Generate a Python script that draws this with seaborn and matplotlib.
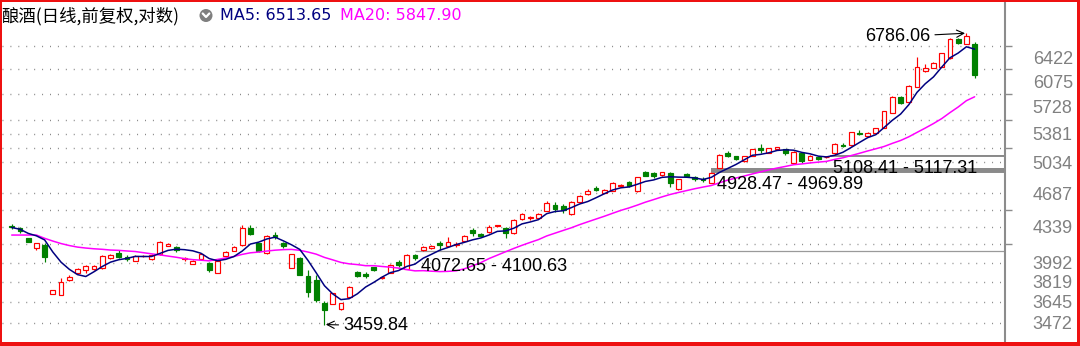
import numpy as np
import pandas as pd
import matplotlib
matplotlib.use("Agg")
import matplotlib.pyplot as plt
import seaborn as sns
from matplotlib.patches import Rectangle, Circle
from matplotlib.lines import Line2D
from matplotlib.ticker import NullFormatter

# ---------------- data ----------------
opens = [4345, 4325, 4223, 4130, 4158, 3713, 3707, 3835, 3895, 3925,
         3930, 3941, 4033, 4082, 4048, 4008, 4050, 4026, 4071, 4149,
         4139, 4022, 3980, 4023, 3992, 3901, 4057, 4104, 4158, 4322,
         4174, 4079, 4255, 4174, 3946, 4038, 3871, 3835, 3634, 3629,
         3584, 3690, 3903, 3889, 3948, 3853, 3901, 3994, 3932, 4064,
         4106, 4125, 4177, 4146, 4158, 4196, 4305, 4265, 4285, 4340,
         4322, 4275, 4416, 4421, 4427, 4502, 4561, 4551, 4468, 4593,
         4674, 4745, 4690, 4712, 4766, 4814, 4706, 4922, 4911, 4889,
         4914, 4730, 4900, 4866, 4849, 4802, 4974, 5138, 5103, 5044,
         5108, 5204, 5144, 5192, 5186, 5032, 5138, 5067, 5097, 5091,
         5138, 5246, 5234, 5393, 5350, 5387, 5446, 5638, 5849, 5784,
         5997, 6211, 6261, 6280, 6404, 6688, 6614, 6626]
highs = [4365, 4335, 4226, 4182, 4177, 3751, 3853, 3880, 3939, 3971,
         3971, 4064, 4068, 4110, 4064, 4059, 4064, 4073, 4196, 4177,
         4149, 4040, 4017, 4078, 3998, 4017, 4101, 4149, 4355, 4355,
         4182, 4255, 4288, 4190, 4073, 4045, 3925, 3880, 3653, 3724,
         3640, 3778, 3912, 3910, 3950, 3871, 3976, 4012, 4068, 4072.65,
         4144, 4158, 4196, 4239, 4187, 4255, 4322, 4275, 4355, 4360,
         4338, 4411, 4478, 4447, 4478, 4607, 4596, 4572, 4604, 4668,
         4728, 4767, 4734, 4805, 4788, 4816, 4867, 4937, 4926, 4928,
         4922, 4844, 4914, 4877, 4863, 4928.47, 5132, 5172, 5108, 5108,
         5192, 5252, 5204, 5216, 5192, 5162, 5144, 5120, 5103, 5108.41,
         5264, 5270, 5406, 5419, 5406, 5450, 5675, 5869, 5873, 6014,
         6427, 6320, 6349, 6482, 6704, 6716, 6786.06, 6642]
lows = [4315, 4275, 4187, 4115, 4001, 3709, 3703, 3826, 3889, 3901,
        3921, 3934, 4026, 4031, 4008, 4003, 4040, 4017, 4064, 4144,
        4096, 4008, 3975, 4017, 3907, 3898, 4054, 4101, 4153, 4255,
        4096, 4073, 4221, 4127, 3941, 3876, 3690, 3647, 3459.84, 3625,
        3578, 3688, 3862, 3850, 3914, 3844, 3895, 3950, 3930, 4017,
        4100.63, 4120, 4115, 4139, 4139, 4187, 4245, 4231, 4275, 4330,
        4223, 4265, 4406, 4406, 4421, 4499, 4492, 4475, 4462, 4582,
        4663, 4706, 4685, 4706, 4759, 4755, 4701, 4877, 4852, 4883,
        4759, 4723, 4862, 4825, 4814, 4799, 4969.89, 5093, 5061, 5038,
        5103, 5140, 5138, 5186, 5120, 5026, 5032, 5061, 5061, 5085,
        5117.31, 5216, 5228, 5362, 5342, 5381, 5444, 5636, 5767, 5781,
        5993, 6204, 6254, 6275, 6400, 6626, 6611, 6114]
closes = [4330, 4295, 4190, 4174, 4048, 3747, 3820, 3865, 3934, 3964,
          3962, 4057, 4064, 4048, 4026, 4054, 4054, 4064, 4190, 4172,
          4110, 4031, 4010, 4073, 3925, 4010, 4094, 4142, 4328, 4262,
          4101, 4249, 4231, 4149, 4071, 3880, 3732, 3662, 3578, 3718,
          3634, 3771, 3871, 3871, 3925, 3865, 3971, 3966, 4059, 4031,
          4139, 4153, 4158, 4190, 4172, 4246, 4275, 4250, 4335, 4350,
          4272, 4406, 4468, 4432, 4468, 4579, 4516, 4509, 4596, 4658,
          4712, 4717, 4723, 4799, 4779, 4761, 4861, 4883, 4883, 4922,
          4796, 4840, 4877, 4844, 4833, 4917, 5120, 5103, 5073, 5103,
          5186, 5174, 5198, 5210, 5144, 5160, 5044, 5114, 5073, 5097,
          5258, 5222, 5400, 5375, 5393, 5444, 5668, 5860, 5774, 6011,
          6280, 6261, 6341, 6475, 6696, 6634, 6735, 6161]
# MA20 values at the first 19 candles (history before the window)
ma20_head = [4255, 4255, 4255, 4255, 4223, 4196, 4172, 4153, 4138, 4129,
             4122, 4117, 4110, 4107, 4101, 4096, 4085, 4074, 4064]

tick_values = [6422, 6075, 5728, 5381, 5034, 4687, 4339, 3992, 3819, 3645, 3472]
grid_values = [6595, 6248, 5901, 5554, 5381, 5207, 5034, 4687, 4512, 4339,
               4165, 3992, 3819, 3645, 3472]
gap_lows = [4072.65, 4928.47, 5108.41]
gap_highs = [4100.63, 4969.89, 5117.31]
gap_idx = [49, 85, 99.4]
peak_idx, peak_label = 116, "6786.06"
trough_idx, trough_label = 38, "3459.84"
title_text = "酿酒(日线,前复权,对数)"
ma5_label = "MA5: 6513.65"
ma20_label = "MA20: 5847.90"

# ---------------- style ----------------
sns.set_theme(style="white")
plt.rcParams["font.family"] = ["DejaVu Sans"]

RED = "#ff0000"
GREEN = "#008000"
NAVY = "#000080"
MAGENTA = "#ff00ff"
GRAY = "#8c8c8c"

W, H = 1080, 346
fig = plt.figure(figsize=(W / 100, H / 100), dpi=100)
fig.patch.set_facecolor("white")

ax_l, ax_r, ax_t, ax_b = 2, 1005, 2, 341
ax = fig.add_axes([ax_l / W, (H - ax_b) / H, (ax_r - ax_l) / W, (ax_b - ax_t) / H])
ax.set_facecolor("white")

df = pd.DataFrame({"open": opens, "high": highs, "low": lows, "close": closes})
df["idx"] = np.arange(len(df))
df["ma5"] = df["close"].rolling(5, min_periods=1).mean()
ma20 = df["close"].rolling(20).mean().to_numpy()
ma20[:len(ma20_head)] = ma20_head
df["ma20"] = ma20

ax.set_yscale("log")
ymin, ymax = 3330.4, 7293.5
xmin, xmax = -1.18, 120.69
ax.set_ylim(ymin, ymax)
ax.set_xlim(xmin, xmax)

# gridlines (dotted)
ax.hlines(grid_values, xmin, xmax, colors="#858585", linestyles=(0, (0.7, 5)),
          linewidth=1.0, zorder=0)

# gap lines
for i, (lo, hi) in enumerate(zip(gap_lows, gap_highs)):
    if i == 0:
        ax.hlines(hi, gap_idx[i], xmax, colors="#9a9a9a", linewidth=0.9, zorder=1)
    else:
        ax.fill_between([gap_idx[i], xmax], lo, hi, color="#8a8a8a", lw=0, zorder=1)
        ax.hlines([lo, hi], gap_idx[i], xmax, colors="#8a8a8a", linewidth=0.7, zorder=1)

# candles
up = (df["close"] >= df["open"]).to_numpy()
wick_colors = np.where(up, RED, GREEN)
ax.vlines(df["idx"], df["low"], df["high"], colors=wick_colors, linewidth=0.85, zorder=2)
bottom = np.minimum(df["open"], df["close"]).to_numpy()
height = np.abs(df["close"] - df["open"]).to_numpy()
height = np.maximum(height, bottom * 0.0006)
idx = df["idx"].to_numpy()
ax.bar(idx[up], height[up], bottom=bottom[up], width=0.58, facecolor="white",
       edgecolor=RED, linewidth=0.85, zorder=3)
ax.bar(idx[~up], height[~up], bottom=bottom[~up], width=0.58, facecolor=GREEN,
       edgecolor=GREEN, linewidth=0.85, zorder=3)

# moving averages
sns.lineplot(data=df, x="idx", y="ma20", ax=ax, color=MAGENTA, linewidth=1.1, zorder=4)
sns.lineplot(data=df, x="idx", y="ma5", ax=ax, color=NAVY, linewidth=1.1, zorder=5)

# axes cosmetics
for s in ["left", "top", "bottom"]:
    ax.spines[s].set_visible(False)
ax.spines["right"].set_visible(True)
ax.spines["right"].set_color(GRAY)
ax.spines["right"].set_linewidth(1.5)
ax.set_xticks([])
ax.set_xlabel("")
ax.set_ylabel("")
ax.yaxis.tick_right()
ax.set_yticks(tick_values, labels=[str(v) for v in tick_values])
ax.set_yticks(grid_values, minor=True)
ax.yaxis.set_minor_formatter(NullFormatter())
ax.tick_params(axis="y", which="major", length=0, pad=20, labelsize=13,
               labelcolor="#808080", right=True, left=False)
ax.tick_params(axis="y", which="minor", length=5, width=1, color=GRAY,
               right=True, left=False)
for lab in ax.get_yticklabels():
    lab.set_fontfamily("Liberation Sans")
    lab.set_horizontalalignment("left")

# annotations
ann_font = dict(fontsize=13, family="Liberation Sans", color="black")
text_idx = [49.75, 85.75, 99.75]
for i in range(3):
    ax.annotate(f"{gap_lows[i]:.2f} - {gap_highs[i]:.2f}", xy=(text_idx[i], gap_lows[i]),
                xytext=(0, -9), textcoords="offset points", ha="left", va="center",
                zorder=6, **ann_font)
ax.annotate(peak_label, xy=(peak_idx, highs[peak_idx]), xytext=(-26, -2.5),
            textcoords="offset points", ha="right", va="center", zorder=6,
            arrowprops=dict(arrowstyle="->", color="black", lw=0.8, shrinkA=1, shrinkB=1),
            **ann_font)
ax.annotate(trough_label, xy=(trough_idx, lows[trough_idx]), xytext=(13.5, -1),
            textcoords="offset points", ha="left", va="center", zorder=6,
            arrowprops=dict(arrowstyle="->", color="black", lw=0.8, shrinkA=1, shrinkB=1),
            **ann_font)

# title row
fig.text(1 / W, 1 - 16 / H, title_text, fontsize=12.5, color="black",
         family=["Noto Sans CJK SC", "DejaVu Sans"], ha="left", va="center")
circ = Circle((2.06, (H - 15.5) / 100), 0.065, transform=fig.dpi_scale_trans,
              facecolor="#7f7f7f", edgecolor="none")
fig.patches.append(circ)
fig.lines.append(Line2D([2.027, 2.06, 2.093], [(H - 13.5) / 100, (H - 17) / 100, (H - 13.5) / 100],
                        transform=fig.dpi_scale_trans, color="white", lw=1.6))
fig.text(220 / W, 1 - 16 / H, ma5_label, fontsize=11.5, color=NAVY, ha="left", va="center")
fig.text(340 / W, 1 - 16 / H, ma20_label, fontsize=11.5, color=MAGENTA, ha="left", va="center")

# red frame
BR = "#ee1111"
for (x0, y0, w, h) in [(0, 0, 2, H), (0, H - 2, W, 2), (W - 3.5, 0, 3.5, H), (0, 0, W, 4)]:
    fig.patches.append(Rectangle((x0 / W, y0 / H), w / W, h / H, transform=fig.transFigure,
                                 facecolor=BR, edgecolor="none", zorder=10))

fig.savefig("out.png", dpi=100, facecolor="white")
